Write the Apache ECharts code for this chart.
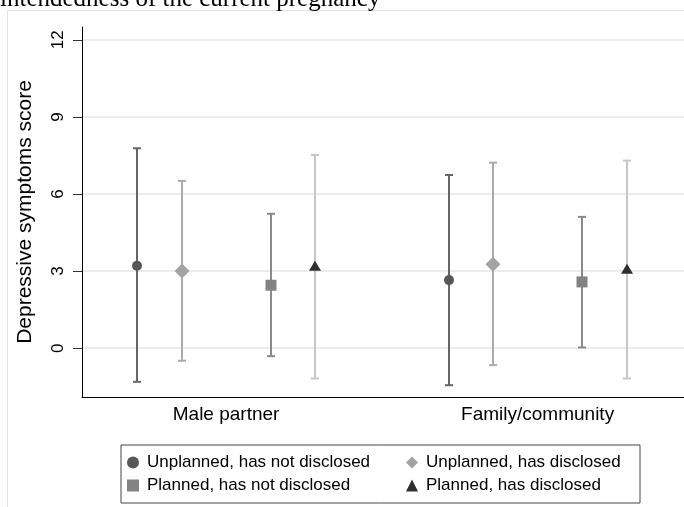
<!DOCTYPE html>
<html>
<head>
<meta charset="utf-8">
<title>Depressive symptoms score</title>
<script src="https://cdn.jsdelivr.net/npm/echarts@6.0.0/dist/echarts.min.js"></script>
<style>
    html, body { margin: 0; padding: 0; background: #fff; }
    #chart { width: 684px; height: 507px; }
</style>
</head>
<body>
<div id="chart"></div>
<script>
// x轴分组
const groups = ['Male partner', 'Family/community']
// y轴刻度
const yTicks = [0, 3, 6, 9, 12]

const seriesNames = [
    'Unplanned, has not disclosed',
    'Unplanned, has disclosed',
    'Planned, has not disclosed',
    'Planned, has disclosed'
]

// Unplanned, has not disclosed
const unplNotMean = [3.21, 2.65]
const unplNotLo = [-1.31, -1.44]
const unplNotHi = [7.78, 6.74]

// Unplanned, has disclosed
const unplDisMean = [3.00, 3.27]
const unplDisLo = [-0.49, -0.66]
const unplDisHi = [6.51, 7.22]

// Planned, has not disclosed
const planNotMean = [2.45, 2.58]
const planNotLo = [-0.31, 0.03]
const planNotHi = [5.23, 5.11]

// Planned, has disclosed
const planDisMean = [3.17, 3.05]
const planDisLo = [-1.18, -1.18]
const planDisHi = [7.52, 7.30]

const means = [unplNotMean, unplDisMean, planNotMean, planDisMean]
const lows = [unplNotLo, unplDisLo, planNotLo, planDisLo]
const highs = [unplNotHi, unplDisHi, planNotHi, planDisHi]

// 每个系列的样式（像素偏移、颜色、形状）
const styles = [
    { offset: -89, marker: '#575757', bar: '#666666', shape: 'circle', icon: 'circle', textWidth: 253 },
    { offset: -44.5, marker: '#a3a3a3', bar: '#ababab', shape: 'diamond', icon: 'diamond', textWidth: 200 },
    { offset: 44.5, marker: '#838383', bar: '#8a8a8a', shape: 'square', icon: 'rect', textWidth: 253 },
    { offset: 89, marker: '#2e2e2e', bar: '#c6c6c6', shape: 'triangle', icon: 'triangle', textWidth: 200 }
]

function makeMarker(shape, x, y, color) {
    const style = { fill: color }
    if (shape === 'circle') {
        return { type: 'circle', shape: { cx: x, cy: y, r: 5 }, style }
    }
    if (shape === 'square') {
        return { type: 'rect', shape: { x: x - 5.5, y: y - 5.5, width: 11, height: 11 }, style }
    }
    if (shape === 'diamond') {
        return { type: 'polygon', shape: { points: [[x, y - 7.5], [x + 7.5, y], [x, y + 7.5], [x - 7.5, y]] }, style }
    }
    return { type: 'polygon', shape: { points: [[x, y - 6], [x + 6, y + 4], [x - 6, y + 4]] }, style }
}

function errorBarItem(k) {
    const st = styles[k]
    return function (params, api) {
        const g = api.value(0)
        const mid = api.coord([g, api.value(1)])
        const lo = api.coord([g, api.value(2)])
        const hi = api.coord([g, api.value(3)])
        const x = Math.round(mid[0] + st.offset)
        const lineStyle = { stroke: st.bar, lineWidth: 2 }
        return {
            type: 'group',
            children: [
                { type: 'line', shape: { x1: x, y1: hi[1], x2: x, y2: lo[1] }, style: lineStyle },
                { type: 'line', shape: { x1: x - 4, y1: hi[1], x2: x + 4, y2: hi[1] }, style: lineStyle },
                { type: 'line', shape: { x1: x - 4, y1: lo[1], x2: x + 4, y2: lo[1] }, style: lineStyle },
                makeMarker(st.shape, x, mid[1], st.marker)
            ]
        }
    }
}

const series = seriesNames.map((name, k) => ({
    name: name,
    type: 'custom',
    renderItem: errorBarItem(k),
    itemStyle: { color: styles[k].marker },
    encode: { x: 0, y: [1, 2, 3] },
    data: groups.map((g, i) => [i, means[k][i], lows[k][i], highs[k][i]])
}))

let myChart = echarts.init(document.getElementById('chart'))

let option = {
    animation: false,
    textStyle: { fontFamily: '"Liberation Sans", Arial, sans-serif' },
    title: {
        text: 'intendedness of the current pregnancy',
        left: 0,
        top: -13,
        padding: 0,
        textStyle: {
            fontFamily: '"Liberation Serif", "Times New Roman", serif',
            fontSize: 25,
            fontWeight: 'normal',
            color: '#000'
        }
    },
    graphic: [
        {
            type: 'rect',
            z: -10,
            silent: true,
            shape: { x: 7.5, y: 10.5, width: 720, height: 620 },
            style: { fill: 'none', stroke: '#e2e2e2', lineWidth: 1 }
        }
    ],
    grid: {
        left: 82,
        right: 0,
        top: 27,
        bottom: 110
    },
    legend: {
        left: 121,
        top: 445,
        width: 510,
        orient: 'horizontal',
        padding: [9, 14, 9, 6],
        itemGap: 6,
        itemWidth: 12,
        itemHeight: 12,
        borderColor: '#444',
        borderWidth: 1,
        itemStyle: { borderWidth: 0 },
        textStyle: {
            fontSize: 17,
            lineHeight: 16,
            color: '#000',
            padding: [0, 0, 0, 3]
        },
        data: seriesNames.map((name, k) => ({
            name: name,
            icon: styles[k].icon,
            textStyle: { width: styles[k].textWidth }
        }))
    },
    xAxis: {
        type: 'value',
        min: -0.4625,
        max: 1.47,
        axisLine: { onZero: false, lineStyle: { color: '#000', width: 1 } },
        axisTick: { show: false },
        splitLine: { show: false },
        axisLabel: {
            customValues: groups.map((g, i) => i),
            formatter: v => groups[Math.round(v)],
            fontSize: 19,
            color: '#000',
            margin: 8
        }
    },
    yAxis: {
        type: 'value',
        min: -1.9,
        max: 12.5,
        name: 'Depressive symptoms score',
        nameLocation: 'middle',
        nameGap: 46,
        nameTextStyle: { fontSize: 21, color: '#000' },
        axisLine: { show: true, onZero: false, lineStyle: { color: '#000', width: 1 } },
        axisTick: {
            show: true,
            customValues: yTicks,
            length: 9,
            lineStyle: { color: '#333' }
        },
        axisLabel: {
            customValues: yTicks,
            rotate: 90,
            fontSize: 17,
            color: '#000',
            margin: 15
        },
        splitLine: {
            show: true,
            lineStyle: { color: '#e6e6e6', width: 1.5 }
        }
    },
    series: series
}

myChart.setOption(option)
</script>
</body>
</html>
